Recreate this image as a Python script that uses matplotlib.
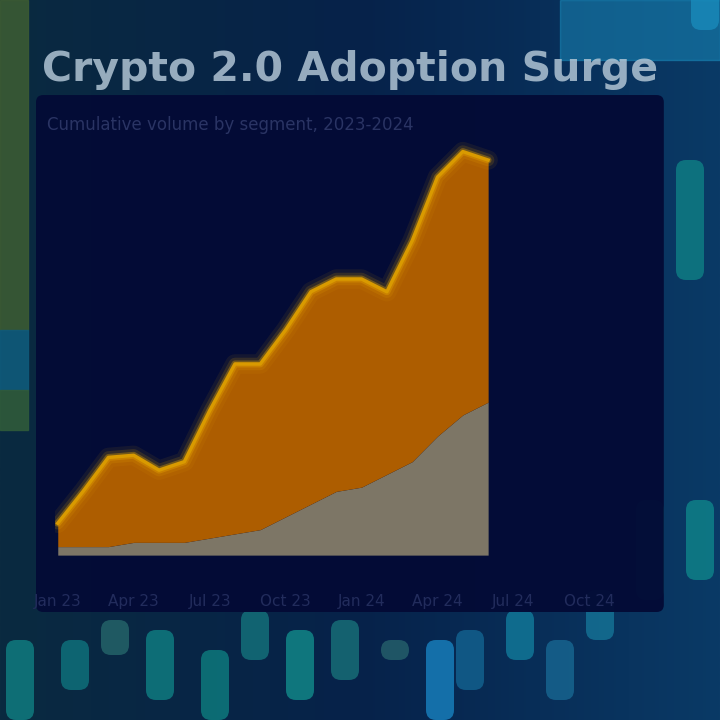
import matplotlib.pyplot as plt
import numpy as np
from matplotlib.patches import FancyBboxPatch

# Data (monthly index, stacked area)
months = ['Jan 23', 'Feb 23', 'Mar 23', 'Apr 23', 'May 23', 'Jun 23', 'Jul 23', 'Aug 23', 'Sep 23',
          'Oct 23', 'Nov 23', 'Dec 23', 'Jan 24', 'Feb 24', 'Mar 24', 'Apr 24', 'May 24', 'Jun 24']
base_segment = [2, 2, 2, 3, 3, 3, 4, 5, 6, 9, 12, 15, 16, 19, 22, 28, 33, 36]
total = [7.5, 15, 23, 23.5, 20, 22, 34, 45, 45, 53, 62, 65, 65, 62, 74, 89, 95, 93]
tick_labels = ['Jan 23', 'Apr 23', 'Jul 23', 'Oct 23', 'Jan 24', 'Apr 24', 'Jul 24', 'Oct 24']

# Background candles (decoration)
candle_x = [20, 75, 115, 160, 215, 255, 300, 345, 395, 440, 470, 520, 560, 600, 650, 700, 690, 705]
candle_lo = [720, 690, 655, 700, 720, 660, 700, 680, 660, 720, 690, 660, 700, 640, 600, 580, 280, 30]
candle_hi = [640, 640, 620, 630, 650, 610, 630, 620, 640, 640, 630, 610, 640, 590, 500, 500, 160, -10]
candle_col = ['#118c8c', '#0f7f86', '#2a6f70', '#108c8c', '#0f8a88', '#167e84', '#139a95', '#1a7d80',
              '#2a6a70', '#1a8fd0', '#146c9a', '#1386a5', '#1a6f9a', '#177ea0', '#0f8080', '#0f9090',
              '#0f8a8a', '#1a90c0']

fig = plt.figure(figsize=(7.2, 7.2), dpi=100)
fig.patch.set_facecolor('#05244a')

# background layer
bg = fig.add_axes([0, 0, 1, 1], zorder=0)
bg.set_xlim(0, 720)
bg.set_ylim(720, 0)
bg.axis('off')
grad = np.linspace(0, 1, 256).reshape(1, -1)
bg.imshow(grad, extent=[0, 720, 720, 0], aspect='auto', cmap=plt.cm.colors.LinearSegmentedColormap.from_list(
    'bgc', ['#0a2a40', '#06224a', '#0a3a66']), zorder=0)
bg.add_patch(plt.Rectangle((0, 0), 28, 330, color='#3b5a33', alpha=0.9, zorder=1))
bg.add_patch(plt.Rectangle((0, 330), 28, 60, color='#0f5a7a', alpha=0.9, zorder=1))
bg.add_patch(plt.Rectangle((0, 390), 28, 40, color='#2f5a3a', alpha=0.9, zorder=1))
bg.add_patch(plt.Rectangle((560, 0), 160, 60, color='#1a8fc0', alpha=0.5, zorder=1))
for x, lo, hi, c in zip(candle_x, candle_lo, candle_hi, candle_col):
    bg.add_patch(FancyBboxPatch((x - 14, hi), 28, lo - hi, boxstyle='round,pad=0,rounding_size=10',
                                color=c, alpha=0.7, zorder=1, lw=0))

# dark panel
panel = FancyBboxPatch((0.05, 0.15), 0.872, 0.718, boxstyle='round,pad=0,rounding_size=0.01',
                       transform=fig.transFigure, facecolor='#030b36', edgecolor='none', alpha=0.97, zorder=1)
fig.patches.append(panel)

# title and subtitle
fig.text(0.058, 0.903, 'Crypto 2.0 Adoption Surge', fontsize=29.5, fontweight='bold',
         color='#b0c4d4', alpha=0.85, va='center', ha='left', zorder=3)
fig.text(0.065, 0.826, 'Cumulative volume by segment, 2023-2024', fontsize=12,
         color='#2a3464', va='center', ha='left', zorder=3)

ax = fig.add_axes([0.076, 0.229, 0.827, 0.59], zorder=2)
ax.set_facecolor('none')
x = np.arange(len(months))
ax.fill_between(x, 0, base_segment, color='#7d7666', lw=0, zorder=2)
ax.fill_between(x, base_segment, total, color='#ad5d00', lw=0, zorder=2)
for lw, a in [(14, 0.08), (9, 0.15), (5, 0.35)]:
    ax.plot(x, total, color='#e8a800', lw=lw, alpha=a, solid_capstyle='round', zorder=3)
ax.plot(x, total, color='#d99a00', lw=2.5, zorder=3)

ax.set_xlim(-0.12, 23.4)
ax.set_ylim(0, 100)
ax.set_xticks(np.arange(0, 24, 3))
ax.set_xticklabels(tick_labels, color='#222c5c', fontsize=11)
ax.tick_params(axis='x', length=0, pad=28)
ax.set_yticks([])
for s in ax.spines.values():
    s.set_visible(False)

fig.savefig('out.png', dpi=100, facecolor=fig.get_facecolor())
